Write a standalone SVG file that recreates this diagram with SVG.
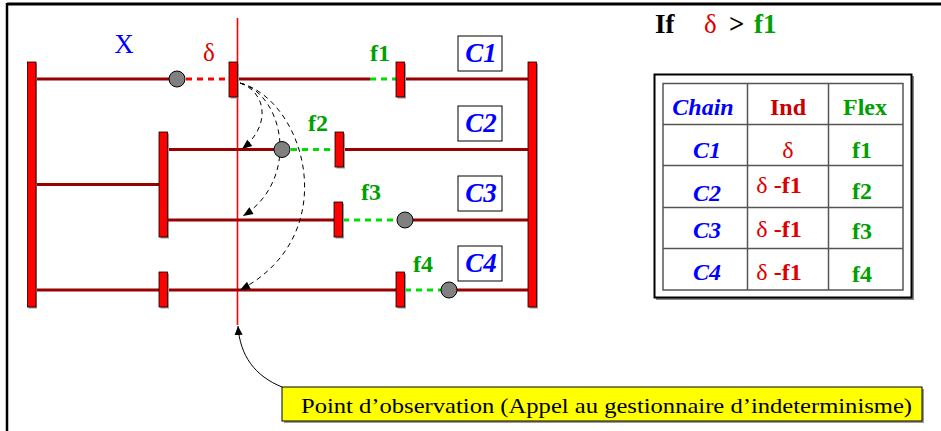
<svg xmlns="http://www.w3.org/2000/svg" width="941" height="431" viewBox="0 0 941 431">
<defs>
<style>
.chain{stroke:#990000;stroke-width:3;fill:none}
.rdash{stroke:#ff0000;stroke-width:3;stroke-dasharray:6,5;fill:none}
.gdash{stroke:#00dd00;stroke-width:3;stroke-dasharray:6,5;fill:none}
.bar{fill:#ff0000;stroke:#000;stroke-width:0.8}
.shadow{fill:#999}
.tok{fill:#808080;stroke:#000;stroke-width:1}
.obs{stroke:#ff0000;stroke-width:1.6}
.arc{fill:none;stroke:#000;stroke-width:1;stroke-dasharray:5,4}
.arc2{fill:none;stroke:#000;stroke-width:1}
.t{font-family:"Liberation Serif","Times New Roman",serif}
.b{font-weight:bold}
.i{font-style:italic}
.blue{fill:#0000ff}
.red{fill:#dd0000}
.grn{fill:#00a000}
.cbox{fill:#fff;stroke:#000;stroke-width:1}
.grid{fill:none;stroke:#555;stroke-width:1.5}
</style>
<marker id="ah" viewBox="0 0 10 10" refX="10" refY="5" markerWidth="11" markerHeight="10" markerUnits="userSpaceOnUse" orient="auto">
<path d="M0,1 L10,5 L0,9 Z" fill="#000"/>
</marker>
<marker id="ah2" viewBox="0 0 10 10" refX="10" refY="5" markerWidth="9" markerHeight="14" markerUnits="userSpaceOnUse" orient="auto">
<path d="M0,0.5 L10,5 L0,9.5 Z" fill="#000"/>
</marker>
</defs>
<rect width="941" height="431" fill="#fff"/>
<g id="frame">
<line x1="7" y1="4" x2="941" y2="4" stroke="#000" stroke-width="3"/>
<line x1="7" y1="3" x2="7" y2="431" stroke="#000" stroke-width="2.5"/>
</g>

<g id="observation-line">
<line class="obs" x1="237.5" y1="18" x2="237.5" y2="325"/>
</g>

<g id="chain-C1">
<line class="chain" x1="36" y1="79" x2="169" y2="79"/>
<line class="rdash" x1="186" y1="79" x2="229" y2="79"/>
<line class="chain" x1="237" y1="79" x2="370" y2="79"/>
<line class="gdash" x1="370" y1="79" x2="396" y2="79"/>
<line class="chain" x1="405" y1="79" x2="528" y2="79"/>
<circle class="tok" cx="177" cy="79" r="8"/>
<rect class="shadow" x="230.5" y="63.5" width="8.5" height="35"/>
<rect class="bar" x="229" y="62" width="8.5" height="35"/>
<rect class="shadow" x="397.5" y="63.5" width="8.5" height="35"/>
<rect class="bar" x="396" y="62" width="8.5" height="35"/>
<text class="t b grn" x="380" y="61" font-size="24" text-anchor="middle">f1</text>
<text class="t red" x="209" y="61" font-size="25" text-anchor="middle">δ</text>
<text class="t blue" x="124" y="53" font-size="27" text-anchor="middle">X</text>
<rect class="cbox" x="458" y="36" width="44" height="35"/>
<text class="t b i blue" x="481" y="62" font-size="27" text-anchor="middle">C1</text>
</g>

<g id="chain-C2">
<line class="chain" x1="36" y1="184.5" x2="159" y2="184.5"/>
<line class="chain" x1="168" y1="149.5" x2="274" y2="149.5"/>
<line class="gdash" x1="291" y1="149.5" x2="335" y2="149.5"/>
<line class="chain" x1="343" y1="149.5" x2="528" y2="149.5"/>
<rect class="shadow" x="160.5" y="133.5" width="8.5" height="105"/>
<rect class="bar" x="159" y="132" width="8.5" height="105"/>
<rect class="shadow" x="336.5" y="133.5" width="8.5" height="35"/>
<rect class="bar" x="335" y="132" width="8.5" height="35"/>
<text class="t b grn" x="318" y="131" font-size="24" text-anchor="middle">f2</text>
<rect class="cbox" x="458" y="106" width="44" height="35"/>
<text class="t b i blue" x="481" y="132" font-size="27" text-anchor="middle">C2</text>
</g>

<g id="chain-C3">
<line class="chain" x1="168" y1="220" x2="334" y2="220"/>
<line class="gdash" x1="343" y1="220" x2="397" y2="220"/>
<line class="chain" x1="413" y1="220" x2="528" y2="220"/>
<circle class="tok" cx="405" cy="220" r="8"/>
<rect class="shadow" x="335.5" y="203.5" width="8.5" height="35"/>
<rect class="bar" x="334" y="202" width="8.5" height="35"/>
<text class="t b grn" x="371" y="200" font-size="24" text-anchor="middle">f3</text>
<rect class="cbox" x="458" y="176" width="44" height="35"/>
<text class="t b i blue" x="481" y="202" font-size="27" text-anchor="middle">C3</text>
</g>

<g id="chain-C4">
<line class="chain" x1="36" y1="290" x2="396" y2="290"/>
<line class="gdash" x1="405" y1="290" x2="441" y2="290"/>
<line class="chain" x1="457" y1="290" x2="528" y2="290"/>
<circle class="tok" cx="449" cy="290" r="8"/>
<rect class="shadow" x="160.5" y="273.5" width="8.5" height="35"/>
<rect class="bar" x="159" y="272" width="8.5" height="35"/>
<rect class="shadow" x="397.5" y="273.5" width="8.5" height="35"/>
<rect class="bar" x="396" y="272" width="8.5" height="35"/>
<text class="t b grn" x="423" y="272" font-size="24" text-anchor="middle">f4</text>
<rect class="cbox" x="458" y="246" width="44" height="35"/>
<text class="t b i blue" x="481" y="272" font-size="27" text-anchor="middle">C4</text>
</g>

<g id="start-bar">
<rect class="shadow" x="28.5" y="63.5" width="8.5" height="245"/>
<rect class="bar" x="27.5" y="62" width="8.5" height="245"/>
</g>
<g id="end-bar">
<rect class="shadow" x="529.5" y="63.5" width="8.5" height="245"/>
<rect class="bar" x="528" y="62" width="8.5" height="245"/>
</g>

<g id="connectors">
<path class="arc" d="M240,83 C266,92 272,125 242,149" marker-end="url(#ah)"/>
<path class="arc" d="M240,83 C285,95 300,180 243,216" marker-end="url(#ah)"/>
<path class="arc" d="M240,83 C305,100 345,235 240,290" marker-end="url(#ah)"/>
<path class="arc2" d="M282,387 C255,376 240,356 238,326" marker-end="url(#ah2)"/>
</g>

<g id="token-C2">
<circle class="tok" cx="282" cy="149.5" r="8"/>
</g>

<g id="condition">
<text class="t" x="655" y="33" font-size="27"><tspan class="b" fill="#000">If</tspan><tspan class="red" x="704">δ</tspan><tspan class="b" fill="#000" x="729">&gt;</tspan><tspan class="b grn" x="754">f1</tspan></text>
</g>

<g id="table">
<rect x="656" y="76" width="258" height="224" fill="#888"/>
<rect x="654.5" y="74.5" width="257" height="223" fill="#fff" stroke="#000" stroke-width="2"/>
<rect class="grid" x="663" y="83.5" width="240" height="206.5"/>
<line class="grid" x1="747.5" y1="83.5" x2="747.5" y2="290"/>
<line class="grid" x1="828.5" y1="83.5" x2="828.5" y2="290"/>
<line class="grid" x1="663" y1="124.5" x2="903" y2="124.5"/>
<line class="grid" x1="663" y1="165.5" x2="903" y2="165.5"/>
<line class="grid" x1="663" y1="207.5" x2="903" y2="207.5"/>
<line class="grid" x1="663" y1="248.5" x2="903" y2="248.5"/>
<g class="t" font-size="24" text-anchor="middle">
<text class="b i blue" x="703" y="115">Chain</text>
<text class="b" fill="#cc0000" x="788" y="115">Ind</text>
<text class="b grn" x="865" y="115">Flex</text>
<text class="b i blue" x="707" y="158">C1</text>
<text class="red" x="788" y="158">δ</text>
<text class="b grn" x="862" y="158">f1</text>
<text class="b i blue" x="707" y="201">C2</text>
<text x="779" y="193"><tspan class="red">δ</tspan><tspan class="b red"> -f1</tspan></text>
<text class="b grn" x="862" y="199">f2</text>
<text class="b i blue" x="707" y="238">C3</text>
<text x="779" y="237"><tspan class="red">δ</tspan><tspan class="b red"> -f1</tspan></text>
<text class="b grn" x="862" y="239">f3</text>
<text class="b i blue" x="707" y="280">C4</text>
<text x="779" y="280"><tspan class="red">δ</tspan><tspan class="b red"> -f1</tspan></text>
<text class="b grn" x="862" y="282">f4</text>
</g>
</g>

<g id="note">
<rect x="284" y="389" width="640" height="34" fill="#999"/>
<rect x="282" y="387" width="640" height="34" fill="#ffff00" stroke="#000" stroke-width="1"/>
<text class="t" x="301" y="413" font-size="22" textLength="611" lengthAdjust="spacingAndGlyphs">Point d’observation (Appel au gestionnaire d’indeterminisme)</text>
</g>
</svg>
